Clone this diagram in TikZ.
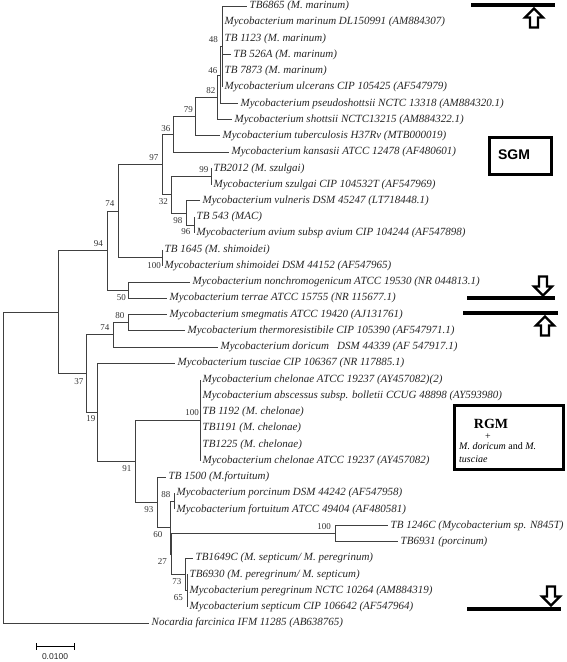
\documentclass[tikz,border=0pt]{standalone}
\usepackage{fontspec}
\setmainfont{Liberation Serif}
\newfontfamily\sansf{Liberation Sans}
\begin{document}
\begin{tikzpicture}[x=1pt,y=-1pt,
  br/.style={draw=black!75, line width=0.9pt},
  leaf/.style={anchor=west, inner sep=0pt, xshift=2.5pt, font=\fontsize{11}{11}\selectfont\itshape, text=black!85},
  bs/.style={inner sep=0pt, font=\fontsize{9}{9}\selectfont, text=black!80},
  bsu/.style={bs, anchor=south east},
  bsl/.style={bs, anchor=north east},
  thickln/.style={line width=3.2pt},
  harrow/.style={draw, line width=2.2pt, line join=miter, fill=white},
  boxframe/.style={draw, line width=3pt, inner sep=0pt}]
\useasboundingbox (0,0) rectangle (567,662);
% internal nodes
\coordinate (root) at (3,467.62);
\coordinate (nA) at (58,312.12);
\coordinate (n94) at (107,250.68);
\coordinate (n74) at (118,211.16);
\coordinate (n97) at (162,164.59);
\coordinate (n36) at (173,134.39);
\coordinate (n79) at (195,116.61);
\coordinate (n82) at (217,97.3);
\coordinate (n46) at (220,75.0);
\coordinate (n48) at (222,46.6);
\coordinate (n32) at (171,194.79);
\coordinate (n99) at (211,176.52);
\coordinate (n98) at (186,213.06);
\coordinate (n96) at (194,225.24);
\coordinate (nS) at (162,257.72);
\coordinate (n50) at (128,290.2);
\coordinate (n37) at (86,373.56);
\coordinate (n74b) at (113,334.86);
\coordinate (n80) at (128,322.68);
\coordinate (n19) at (97,412.26);
\coordinate (n91) at (135,461.23);
\coordinate (n100) at (200,420.12);
\coordinate (n93) at (157,502.34);
\coordinate (n60) at (170,527.71);
\coordinate (n88) at (174,501.32);
\coordinate (n27) at (171,554.1);
\coordinate (n100b) at (335,533.8);
\coordinate (n73) at (185,574.4);
\coordinate (n65) at (187,590.64);
% leaf tips
\coordinate (t1) at (247,6.0);
\coordinate (t2) at (222,22.24);
\coordinate (t3) at (222,38.48);
\coordinate (t4) at (231,54.72);
\coordinate (t5) at (222,70.96);
\coordinate (t6) at (222,87.2);
\coordinate (t7) at (238,103.44);
\coordinate (t8) at (232,119.68);
\coordinate (t9) at (220,135.92);
\coordinate (t10) at (229,152.16);
\coordinate (t11) at (211,168.4);
\coordinate (t12) at (211,184.64);
\coordinate (t13) at (200,200.88);
\coordinate (t14) at (194,217.12);
\coordinate (t15) at (194,233.36);
\coordinate (t16) at (162,249.6);
\coordinate (t17) at (162,265.84);
\coordinate (t18) at (190,282.08);
\coordinate (t19) at (167,298.32);
\coordinate (t20) at (167,314.56);
\coordinate (t21) at (185,330.8);
\coordinate (t22) at (218,347.04);
\coordinate (t23) at (175,363.28);
\coordinate (t24) at (200,379.52);
\coordinate (t25) at (200,395.76);
\coordinate (t26) at (200,412.0);
\coordinate (t27) at (200,428.24);
\coordinate (t28) at (200,444.48);
\coordinate (t29) at (200,460.72);
\coordinate (t30) at (166,476.96);
\coordinate (t31) at (174,493.2);
\coordinate (t32) at (174,509.44);
\coordinate (t33) at (388,525.68);
\coordinate (t34) at (398,541.92);
\coordinate (t35) at (193,558.16);
\coordinate (t36) at (187,574.4);
\coordinate (t37) at (187,590.64);
\coordinate (t38) at (187,606.88);
\coordinate (t39) at (149,623.12);
% branches
\draw[br] (root) |- (nA); \draw[br] (root) |- (t39);
\draw[br] (nA) |- (n94); \draw[br] (nA) |- (n37);
\draw[br] (n94) |- (n74); \draw[br] (n94) |- (n50);
\draw[br] (n74) |- (n97); \draw[br] (n74) |- (nS);
\draw[br] (n97) |- (n36); \draw[br] (n97) |- (n32);
\draw[br] (n36) |- (n79); \draw[br] (n36) |- (t10);
\draw[br] (n79) |- (n82); \draw[br] (n79) |- (t9);
\draw[br] (n82) |- (n46); \draw[br] (n82) |- (t8);
\draw[br] (n46) |- (n48); \draw[br] (n46) |- (t7);
\foreach \i in {1,...,6} {\draw[br] (n48) |- (t\i);}
\draw[br] (n32) |- (n99); \draw[br] (n32) |- (n98);
\draw[br] (n99) |- (t11); \draw[br] (n99) |- (t12);
\draw[br] (n98) |- (t13); \draw[br] (n98) |- (n96);
\draw[br] (n96) |- (t14); \draw[br] (n96) |- (t15);
\draw[br] (nS) |- (t16); \draw[br] (nS) |- (t17);
\draw[br] (n50) |- (t18); \draw[br] (n50) |- (t19);
\draw[br] (n37) |- (n74b); \draw[br] (n37) |- (n19);
\draw[br] (n74b) |- (n80); \draw[br] (n74b) |- (t22);
\draw[br] (n80) |- (t20); \draw[br] (n80) |- (t21);
\draw[br] (n19) |- (t23); \draw[br] (n19) |- (n91);
\draw[br] (n91) |- (n100); \draw[br] (n91) |- (n93);
\foreach \i in {24,...,29} {\draw[br] (n100) |- (t\i);}
\draw[br] (n93) |- (t30); \draw[br] (n93) |- (n60);
\draw[br] (n60) |- (n88); \draw[br] (n60) |- (n27);
\draw[br] (n88) |- (t31); \draw[br] (n88) |- (t32);
\draw[br] (n27) |- (n100b); \draw[br] (n27) |- (n73);
\draw[br] (n100b) |- (t33); \draw[br] (n100b) |- (t34);
\draw[br] (n73) |- (t35); \draw[br] (n73) |- (n65);
\foreach \i in {36,37,38} {\draw[br] (n65) |- (t\i);}
% leaf labels
\node[leaf] (L1) at (t1) {TB6865 (M. marinum)};
\node[leaf] (L2) at (t2) {Mycobacterium marinum DL150991 (AM884307)};
\node[leaf] (L3) at (t3) {TB 1123 (M. marinum)};
\node[leaf] (L4) at (t4) {TB 526A (M. marinum)};
\node[leaf] (L5) at (t5) {TB 7873 (M. marinum)};
\node[leaf] (L6) at (t6) {Mycobacterium ulcerans CIP 105425 (AF547979)};
\node[leaf] (L7) at (t7) {Mycobacterium pseudoshottsii NCTC 13318 (AM884320.1)};
\node[leaf] (L8) at (t8) {Mycobacterium shottsii NCTC13215 (AM884322.1)};
\node[leaf] (L9) at (t9) {Mycobacterium tuberculosis H37Rv (MTB000019)};
\node[leaf] (L10) at (t10) {Mycobacterium kansasii ATCC 12478 (AF480601)};
\node[leaf] (L11) at (t11) {TB2012 (M. szulgai)};
\node[leaf] (L12) at (t12) {Mycobacterium szulgai CIP 104532T (AF547969)};
\node[leaf] (L13) at (t13) {Mycobacterium vulneris DSM 45247 (LT718448.1)};
\node[leaf] (L14) at (t14) {TB 543 (MAC)};
\node[leaf] (L15) at (t15) {Mycobacterium avium subsp avium CIP 104244 (AF547898)};
\node[leaf] (L16) at (t16) {TB 1645 (M. shimoidei)};
\node[leaf] (L17) at (t17) {Mycobacterium shimoidei DSM 44152 (AF547965)};
\node[leaf] (L18) at (t18) {Mycobacterium nonchromogenicum ATCC 19530 (NR 044813.1)};
\node[leaf] (L19) at (t19) {Mycobacterium terrae ATCC 15755 (NR 115677.1)};
\node[leaf] (L20) at (t20) {Mycobacterium smegmatis ATCC 19420 (AJ131761)};
\node[leaf] (L21) at (t21) {Mycobacterium thermoresistibile CIP 105390 (AF547971.1)};
\node[leaf] (L22) at (t22) {Mycobacterium doricum\hspace{8pt}DSM 44339 (AF 547917.1)};
\node[leaf] (L23) at (t23) {Mycobacterium tusciae CIP 106367 (NR 117885.1)};
\node[leaf] (L24) at (t24) {Mycobacterium chelonae ATCC 19237 (AY457082)(2)};
\node[leaf] (L25) at (t25) {Mycobacterium abscessus subsp. bolletii CCUG 48898 (AY593980)};
\node[leaf] (L26) at (t26) {TB 1192 (M. chelonae)};
\node[leaf] (L27) at (t27) {TB1191 (M. chelonae)};
\node[leaf] (L28) at (t28) {TB1225 (M. chelonae)};
\node[leaf] (L29) at (t29) {Mycobacterium chelonae ATCC 19237 (AY457082)};
\node[leaf] (L30) at (t30) {TB 1500 (M.fortuitum)};
\node[leaf] (L31) at (t31) {Mycobacterium porcinum DSM 44242 (AF547958)};
\node[leaf] (L32) at (t32) {Mycobacterium fortuitum ATCC 49404 (AF480581)};
\node[leaf] (L33) at (t33) {TB 1246C (Mycobacterium sp. N845T)};
\node[leaf] (L34) at (t34) {TB6931 (porcinum)};
\node[leaf] (L35) at (t35) {TB1649C (M. septicum/ M. peregrinum)};
\node[leaf] (L36) at (t36) {TB6930 (M. peregrinum/ M. septicum)};
\node[leaf] (L37) at (t37) {Mycobacterium peregrinum NCTC 10264 (AM884319)};
\node[leaf] (L38) at (t38) {Mycobacterium septicum CIP 106642 (AF547964)};
\node[leaf] (L39) at (t39) {Nocardia farcinica IFM 11285 (AB638765)};
% bootstrap values
\node[bsu] (b48) at ([shift={(-4,-4)}]n48) {48};
\node[bs, anchor=east] (b46) at ([shift={(-2.5,-4)}]n46) {46};
\node[bsu] (b82) at ([shift={(-1.5,-3.5)}]n82) {82};
\node[bsu] (b79) at ([shift={(-2,-3.5)}]n79) {79};
\node[bsu] (b36) at ([shift={(-2.5,-3)}]n36) {36};
\node[bsu] (b97) at ([shift={(-3.5,-4)}]n97) {97};
\node[bsu] (b99) at ([shift={(-2.5,-4)}]n99) {99};
\node[bsl] (b32) at ([shift={(-3,3.5)}]n32) {32};
\node[bsl] (b98) at ([shift={(-3.5,4)}]n98) {98};
\node[bsl] (b96) at ([shift={(-3.5,3.5)}]n96) {96};
\node[bsu] (b74) at ([shift={(-3.5,-4.5)}]n74) {74};
\node[bsl] (b100s) at ([shift={(-1,5)}]nS) {100};
\node[bsu] (b94) at ([shift={(-4,-4)}]n94) {94};
\node[bsl] (b50) at ([shift={(-2,4.5)}]n50) {50};
\node[bsu] (b80) at ([shift={(-3.5,-4)}]n80) {80};
\node[bsu] (b74b) at ([shift={(-3.5,-4)}]n74b) {74};
\node[bsl] (b37) at ([shift={(-2.5,5)}]n37) {37};
\node[bsl] (b19) at ([shift={(-1.5,3.5)}]n19) {19};
\node[bsu] (b100) at ([shift={(-1,-4)}]n100) {100};
\node[bsl] (b91) at ([shift={(-3.5,4)}]n91) {91};
\node[bsl] (b93) at ([shift={(-3.5,4)}]n93) {93};
\node[bsu] (b88) at ([shift={(-3.5,-4)}]n88) {88};
\node[bsl] (b60) at ([shift={(-7.5,4)}]n60) {60};
\node[bsl] (b27) at ([shift={(-4,4)}]n27) {27};
\node[bsu] (b100b) at ([shift={(-4,-4)}]n100b) {100};
\node[bsl] (b73) at ([shift={(-3.5,4)}]n73) {73};
\node[bs, anchor=east] (b65) at ([shift={(-4,7)}]n65) {65};
% scale bar
\coordinate (sb1) at (36,646); \coordinate (sb2) at (74,646);
\draw[line width=1pt] (sb1) -- (sb2);
\draw[line width=1pt] ([yshift=-3.5pt]sb1) -- ([yshift=3.5pt]sb1);
\draw[line width=1pt] ([yshift=-3.5pt]sb2) -- ([yshift=3.5pt]sb2);
\node[inner sep=0pt, font=\sansf\fontsize{8.5}{8.5}\selectfont, text=black!85] (sblab) at (55,657) {0.0100};
% annotations: lines and hollow arrows
\draw[thickln] (471,5) -- (555,5);
\draw[harrow] (534,8.5) -- ++(9,9) -- ++(-5,0) -- ++(0,10) -- ++(-8,0) -- ++(0,-10) -- ++(-5,0) -- cycle;
\draw[harrow] (543,295.5) -- ++(9,-9) -- ++(-5,0) -- ++(0,-10) -- ++(-8,0) -- ++(0,10) -- ++(-5,0) -- cycle;
\draw[thickln] (467,298) -- (555,298);
\draw[thickln] (463,313) -- (558,313);
\draw[harrow] (545,316.5) -- ++(9,9) -- ++(-5,0) -- ++(0,10) -- ++(-8,0) -- ++(0,-10) -- ++(-5,0) -- cycle;
\draw[harrow] (551,605.5) -- ++(9,-9) -- ++(-5,0) -- ++(0,-10) -- ++(-8,0) -- ++(0,10) -- ++(-5,0) -- cycle;
\draw[thickln] (467,609) -- (561,609);
% SGM box
\node[boxframe, minimum width=62pt, minimum height=37pt] (sgmbox) at (520,155.5) {};
\node[inner sep=0pt, font=\sansf\bfseries\fontsize{14}{14}\selectfont] (sgm) at (514,155) {SGM};
% RGM box
\node[boxframe, minimum width=109pt, minimum height=64pt] (rgmbox) at (508.5,437) {};
\node[inner sep=0pt, font=\bfseries\fontsize{14}{14}\selectfont] (rgm) at (491,424) {RGM};
\node[inner sep=0pt, font=\fontsize{10}{10}\selectfont] (plus) at (488,437) {+};
\node[inner sep=0pt, anchor=west, font=\fontsize{10}{10}\selectfont] (rgmt1) at (459,446) {\textit{M. doricum} and \textit{M.}};
\node[inner sep=0pt, anchor=west, font=\fontsize{10}{10}\selectfont] (rgmt2) at (459,459) {\textit{tusciae}};
\end{tikzpicture}
\end{document}
